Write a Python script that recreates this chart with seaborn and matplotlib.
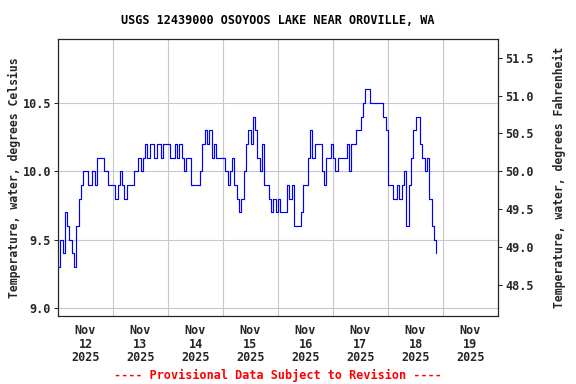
import numpy as np
import pandas as pd
import matplotlib
matplotlib.use("Agg")
import matplotlib.pyplot as plt
import matplotlib.dates as mdates
import seaborn as sns

# Hourly water temperature, tenths of a degree Celsius, starting 2025-11-12 00:00
nov12 = [93, 95, 94, 97, 96, 95, 94, 93, 96, 98, 99, 100, 100, 99, 99, 100, 99, 101, 101, 101, 100, 100, 99, 99]
nov13 = [99, 98, 99, 100, 99, 98, 99, 99, 99, 100, 100, 101, 100, 101, 102, 101, 102, 102, 101, 102, 102, 101, 102, 102]
nov14 = [102, 101, 101, 102, 101, 102, 101, 100, 101, 101, 99, 99, 99, 99, 100, 102, 103, 102, 103, 101, 102, 101, 101, 101]
nov15 = [101, 100, 99, 100, 101, 99, 98, 97, 98, 100, 102, 103, 102, 104, 103, 101, 100, 102, 99, 99, 98, 97, 98, 97]
nov16 = [98, 97, 97, 97, 99, 98, 99, 96, 96, 96, 97, 99, 99, 101, 103, 101, 102, 102, 102, 100, 99, 101, 101, 102]
nov17 = [101, 100, 101, 101, 101, 101, 102, 100, 102, 102, 103, 103, 104, 105, 106, 106, 105, 105, 105, 105, 105, 105, 104, 103]
nov18 = [99, 99, 98, 98, 99, 98, 99, 100, 96, 99, 101, 103, 104, 104, 102, 101, 100, 101, 98, 96, 95, 94]

start = "2025-11-12 00:00"
x_start, x_end = "2025-11-12", "2025-11-20"
y_min_c, y_max_c = 8.94, 10.97
c_ticks = [9.0, 9.5, 10.0, 10.5]
f_ticks = [48.5, 49.0, 49.5, 50.0, 50.5, 51.0, 51.5]
title = "USGS 12439000 OSOYOOS LAKE NEAR OROVILLE, WA"
ylabel_left = "Temperature, water, degrees Celsius"
ylabel_right = "Temperature, water, degrees Fahrenheit"
footer = "---- Provisional Data Subject to Revision ----"

tenths = nov12 + nov13 + nov14 + nov15 + nov16 + nov17 + nov18
df = pd.DataFrame({
    "time": pd.date_range(start, periods=len(tenths), freq="h"),
    "temp": np.array(tenths) / 10.0,
})

sns.set_theme(style="white")
plt.rcParams["font.family"] = ["DejaVu Sans Mono"]
plt.rcParams["font.weight"] = "bold"

fig = plt.figure(figsize=(5.76, 3.84), dpi=100)
ax = fig.add_axes([58/576, 1 - 316/384, 440/576, 277/384])

sns.lineplot(data=df, x="time", y="temp", ax=ax, color="#0000ff",
             linewidth=0.85, drawstyle="steps-post")

ax.set_xlim(pd.Timestamp(x_start), pd.Timestamp(x_end))
ax.set_ylim(y_min_c, y_max_c)

ax.xaxis.set_major_locator(mdates.DayLocator())
ax.xaxis.set_major_formatter(plt.NullFormatter())
ax.xaxis.set_minor_locator(mdates.HourLocator(byhour=[12]))
ax.xaxis.set_minor_formatter(mdates.DateFormatter("%b\n%d\n%Y"))
ax.tick_params(axis="x", which="both", length=0, pad=6, labelsize=8.5)
for lbl in ax.get_xticklabels(minor=True):
    lbl.set_fontweight("bold")
    lbl.set_linespacing(1.05)

ax.set_yticks(c_ticks)
ax.set_yticklabels([f"{v:.1f}" for v in c_ticks], fontweight="bold")
ax.tick_params(axis="y", length=3, width=0.75, direction="out", labelsize=8.5, pad=2, left=True)

ax.grid(True, which="major", color="#c8c8c8", linewidth=0.8)
for s in ax.spines.values():
    s.set_color("black")
    s.set_linewidth(0.8)

ax.set_xlabel("")
ax.set_ylabel(ylabel_left, fontsize=8.3, fontweight="bold", labelpad=1)

ax2 = ax.twinx()
ax2.set_ylim(y_min_c * 9 / 5 + 32, y_max_c * 9 / 5 + 32)
ax2.set_yticks(f_ticks)
ax2.set_yticklabels([f"{v:.1f}" for v in f_ticks], fontweight="bold")
ax2.tick_params(axis="y", length=3, width=0.75, direction="out", labelsize=8.5, pad=2, right=True)
ax2.set_ylabel(ylabel_right, fontsize=8.3, fontweight="bold", labelpad=14)
ax2.grid(False)
for s in ax2.spines.values():
    s.set_linewidth(0.8)

fig.text(278/576, 1 - 20/384, title, ha="center", va="center",
         fontsize=8.5, fontweight="bold", color="black")
fig.text(278/576, 1 - 375/384, footer, ha="center", va="center",
         fontsize=8.5, fontweight="bold", color="#ff0000")

fig.savefig("out.png", dpi=100)
